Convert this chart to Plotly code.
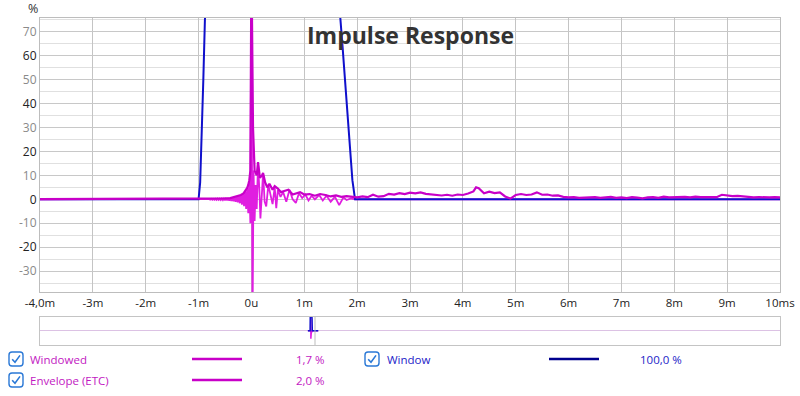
import plotly.graph_objects as go

# ---------------- data (ms, %) ----------------
WINDOW_T = [-4.0, -1.0, -0.97, -0.94, -0.91, -0.88, -0.85, -0.82, -0.8,
            1.49, 1.55, 1.61, 1.67, 1.73, 1.79, 1.85, 1.91, 1.96, 10.0]
WINDOW_V = [0, 0, 7, 25, 50, 75, 93, 99, 100,
            100, 98, 92, 79, 62, 43, 25, 8, 0, 0]

# pre-ringing samples, one every SAMPLE_STEP ms starting at PRE_START
PRE_START = -1.0
SAMPLE_STEP = 0.02
PRE_V = [0.1, -0.1, 0.1, -0.1, 0.12, -0.12, 0.13, -0.13, 0.15, -0.15,
         0.16, -0.16, 0.18, -0.18, 0.2, -0.2, 0.22, -0.22, 0.25, -0.25,
         0.28, -0.3, 0.32, -0.34, 0.36, -0.39, 0.42, -0.45, 0.5, -0.55,
         0.6, -0.66, 0.74, -0.82, 0.92, -1.0, 1.15, -1.3, 1.45, -1.65,
         1.9, -2.2, 2.5, -2.9, 3.4, -4.0, 4.8, -5.8, 7.5, -10.0]
POST_T = [0.0, 0.02, 0.04, 0.06, 0.08, 0.1, 0.125, 0.15, 0.17, 0.2, 0.22, 0.25,
          0.28, 0.32, 0.36, 0.4, 0.44, 0.47, 0.5, 0.55, 0.6, 0.66, 0.72, 0.78,
          0.84, 0.9, 0.96, 1.02, 1.08, 1.14, 1.2, 1.28, 1.35, 1.42, 1.5, 1.58,
          1.66, 1.74, 1.8, 1.88, 1.96, 2.0, 10.0]
POST_V = [100, -55, 12, -9, 6, -4, 15, 4, -8, 3, 11, -1,
          -3, 6, 2, -2, 5, -3.7, 4, 1, 3, -1, 4, 0,
          -1.5, 2.5, 0.5, 2, -0.5, 1.5, 0, 1.8, -0.5, 1.5, -1, 1,
          -2.4, 0.8, -0.3, 0.4, 0, 0, 0]

ENV_T = [-4.0, -3.0, -2.0, -1.5, -1.0, -0.8, -0.6, -0.5, -0.4, -0.3, -0.25, -0.2,
         -0.15, -0.1, -0.08, -0.06, -0.04, -0.02, 0.0, 0.03, 0.06, 0.1, 0.125, 0.16,
         0.2, 0.22, 0.26, 0.3, 0.34, 0.4, 0.44, 0.5, 0.56, 0.62, 0.7, 0.78, 0.85,
         0.92, 1.0, 1.1, 1.2, 1.3, 1.4, 1.5, 1.6, 1.7, 1.8, 1.9, 2.0,
         2.1, 2.2, 2.3, 2.4, 2.5, 2.6, 2.7, 2.8, 2.9, 3.0, 3.1, 3.2, 3.3, 3.4, 3.5,
         3.6, 3.7, 3.8, 3.9, 4.0, 4.1, 4.2, 4.25, 4.3, 4.4, 4.5, 4.6, 4.7, 4.8, 4.9,
         5.0, 5.1, 5.2, 5.3, 5.4, 5.5, 5.6, 5.7, 5.8, 5.9, 6.0, 6.1, 6.2, 6.3, 6.4,
         6.5, 6.6, 6.7, 6.8, 6.9, 7.0, 7.1, 7.2, 7.3, 7.4, 7.5, 7.6, 7.7, 7.8, 7.9,
         8.0, 8.1, 8.2, 8.3, 8.4, 8.5, 8.6, 8.7, 8.8, 8.9, 9.0, 9.1, 9.2, 9.3, 9.4,
         9.5, 9.6, 9.7, 9.8, 9.9, 10.0]
ENV_V = [0.1, 0.1, 0.1, 0.12, 0.15, 0.2, 0.25, 0.35, 0.5, 1.0, 1.4, 1.8,
         2.5, 3.8, 4.8, 6.0, 8.0, 12.0, 100, 30, 12, 10, 15.5, 9,
         10, 11, 7, 5, 6.5, 4, 5.5, 4.5, 3, 3.5, 4, 2, 2.5,
         3, 2, 2.2, 1.5, 2.2, 1.8, 1.2, 1.6, 1.0, 1.3, 1.1, 0.8,
         1.2, 0.9, 1.9, 1.1, 1.3, 2.3, 2.0, 2.6, 2.2, 2.8, 2.5, 2.9, 2.3, 2.0, 1.7,
         1.6, 1.9, 1.5, 2.0, 1.8, 2.4, 3.3, 5.0, 4.6, 2.5, 3.2, 2.6, 2.9, 1.2, 0.3,
         1.8, 2.2, 1.8, 2.0, 2.9, 1.9, 2.0, 1.5, 1.6, 1.0, 0.8, 0.9, 0.6, 0.8, 0.7,
         0.9, 0.6, 0.7, 1.0, 0.6, 0.8, 0.5, 0.9, 0.7, 0.4, 0.8, 0.9, 0.6, 1.1, 0.8,
         0.9, 0.7, 1.0, 0.8, 1.1, 0.9, 0.8, 1.0, 0.9, 1.9, 1.5, 1.3, 1.4, 1.1, 1.0,
         0.8, 0.9, 0.7, 0.8, 0.9, 0.8]

X_TICKS = [-4, -3, -2, -1, 0, 1, 2, 3, 4, 5, 6, 7, 8, 9, 10]
X_LABELS = ["-4,0m", "-3m", "-2m", "-1m", "0u", "1m", "2m", "3m", "4m",
            "5m", "6m", "7m", "8m", "9m", "10ms"]
Y_TICKS = [-30, -20, -10, 0, 10, 20, 30, 40, 50, 60, 70]

LEGEND = [("Windowed", "1,7 %"), ("Envelope (ETC)", "2,0 %"), ("Window", "100,0 %")]

# ---------------- build ----------------
win_t = [-4.0] + [PRE_START + i * SAMPLE_STEP for i in range(len(PRE_V))] + POST_T
win_v = [0.0] + PRE_V + POST_V

C_WINDOWED = "#e01ee0"
C_ENV = "#c800c8"
C_WINDOW = "#1010cc"
C_LEG_MAG = "#c218c2"
C_LEG_BLUE = "#2323c8"
FONT = "Open Sans"

W, H = 800, 396
ML, MR, MT, MB = 40, 20, 18, 51
PW, PH = W - ML - MR, H - MT - MB


def px(x):
    return (x - ML) / PW


def py(y):
    return (H - MB - y) / PH


fig = go.Figure()
fig.add_trace(go.Scatter(x=win_t, y=win_v, mode="lines", name="Windowed",
                         line=dict(color=C_WINDOWED, width=1.8), xaxis="x", yaxis="y"))
fig.add_trace(go.Scatter(x=WINDOW_T, y=WINDOW_V, mode="lines", name="Window",
                         line=dict(color=C_WINDOW, width=2), xaxis="x", yaxis="y"))
fig.add_trace(go.Scatter(x=ENV_T, y=ENV_V, mode="lines", name="Envelope (ETC)",
                         line=dict(color=C_ENV, width=2.2), xaxis="x", yaxis="y"))
# overview strip
fig.add_trace(go.Scatter(x=win_t, y=win_v, mode="lines", line=dict(color=C_WINDOWED, width=1.5),
                         xaxis="x2", yaxis="y2"))
fig.add_trace(go.Scatter(x=WINDOW_T, y=WINDOW_V, mode="lines", line=dict(color=C_WINDOW, width=1.5),
                         xaxis="x2", yaxis="y2"))

ytext = []
for v in Y_TICKS:
    col = "#222222" if (v // 10) % 2 == 0 else "#8a8a8a"
    ytext.append(f'<span style="color:{col}">{v}</span>')

main_bottom = py(292)
fig.update_layout(
    width=W, height=H, margin=dict(l=ML, r=MR, t=MT, b=MB, autoexpand=False),
    paper_bgcolor="white", plot_bgcolor="white", showlegend=False,
    font=dict(family=FONT, size=12, color="#222"),
    xaxis=dict(domain=[0, 1], range=[-4, 10], tickvals=X_TICKS, ticktext=X_LABELS,
               showgrid=True, gridcolor="#c4c4c4", gridwidth=1, zeroline=False,
               showline=True, linecolor="#bdbdbd", mirror=True, ticks="", automargin=False,
               tickfont=dict(size=11.5, color="#222"), anchor="y"),
    yaxis=dict(domain=[main_bottom, 1], range=[-38.7, 75.7], tickvals=Y_TICKS, ticktext=ytext,
               showgrid=True, gridcolor="#c8c8c8", zeroline=False, automargin=False,
               minor=dict(dtick=5, tick0=0, showgrid=True, gridcolor="#e0e0e0"),
               showline=True, linecolor="#bdbdbd", mirror=True, ticks="",
               tickfont=dict(size=12), anchor="x"),
    xaxis2=dict(domain=[0, 1], range=[-366, 634], showgrid=False, zeroline=False,
                showticklabels=False, showline=True, linecolor="#c4c4c4", mirror=True,
                ticks="", anchor="y2", automargin=False),
    yaxis2=dict(domain=[0, py(316.7)], range=[-100, 100], showgrid=False, zeroline=True,
                zerolinecolor="#dcc2e4", zerolinewidth=1, showticklabels=False,
                showline=True, linecolor="#c4c4c4", mirror=True, ticks="", anchor="x2",
                automargin=False),
)

ann = []
shapes = []
ann.append(dict(text="<b>Impulse Response</b>", x=px(410), y=py(35), xref="paper", yref="paper",
                xanchor="center", yanchor="middle", showarrow=False,
                font=dict(size=23, color="#333333", family=FONT)))
ann.append(dict(text="%", x=px(33), y=py(8), xref="paper", yref="paper", showarrow=False,
                xanchor="center", yanchor="middle", font=dict(size=12.5, color="#333")))
# overview viewport marker
shapes.append(dict(type="line", xref="paper", yref="paper", x0=px(315), x1=px(315),
                   y0=0, y1=py(316.7), line=dict(color="#bdbdbd", width=1)))


def checkbox(cx, cy):
    s = 7.0
    r = 3.0
    x0, x1, y0, y1 = cx - s, cx + s, cy - s, cy + s
    pts = (f"M {px(x0 + r)},{py(y0)} L {px(x1 - r)},{py(y0)} "
           f"Q {px(x1)},{py(y0)} {px(x1)},{py(y0 + r)} L {px(x1)},{py(y1 - r)} "
           f"Q {px(x1)},{py(y1)} {px(x1 - r)},{py(y1)} L {px(x0 + r)},{py(y1)} "
           f"Q {px(x0)},{py(y1)} {px(x0)},{py(y1 - r)} L {px(x0)},{py(y0 + r)} "
           f"Q {px(x0)},{py(y0)} {px(x0 + r)},{py(y0)} Z")
    shapes.append(dict(type="path", path=pts, xref="paper", yref="paper",
                       line=dict(color="#2a78d6", width=1.4), fillcolor="white"))
    chk = (f"M {px(cx - 3.8)},{py(cy + 0.2)} L {px(cx - 1.0)},{py(cy + 3.2)} "
           f"L {px(cx + 4.0)},{py(cy - 3.6)}")
    shapes.append(dict(type="path", path=chk, xref="paper", yref="paper",
                       line=dict(color="#2a78d6", width=1.6)))


rows = [(16, 359, 28, 192, 242, 327, LEGEND[0], C_LEG_MAG, C_ENV),
        (16, 380, 28, 192, 242, 327, LEGEND[1], C_LEG_MAG, C_ENV),
        (372, 359, 385, 549, 599, 684, LEGEND[2], C_LEG_BLUE, "#00008e")]
for cbx, yy, tx, lx0, lx1, vx, (name, val), tcol, lcol in rows:
    checkbox(cbx, yy)
    ann.append(dict(text=name, x=px(tx), y=py(yy), xref="paper", yref="paper", showarrow=False,
                    xanchor="left", yanchor="middle", font=dict(size=11.5, color=tcol)))
    ann.append(dict(text=val, x=px(vx), y=py(yy), xref="paper", yref="paper", showarrow=False,
                    xanchor="right", yanchor="middle", font=dict(size=11.5, color=tcol)))
    shapes.append(dict(type="line", xref="paper", yref="paper", x0=px(lx0), x1=px(lx1),
                       y0=py(yy), y1=py(yy), line=dict(color=lcol, width=2.5)))

fig.update_layout(annotations=ann, shapes=shapes)
fig.write_html("out.html", config={"displayModeBar": False},
               post_script="document.body.style.margin='0';document.body.style.overflow='hidden';")
